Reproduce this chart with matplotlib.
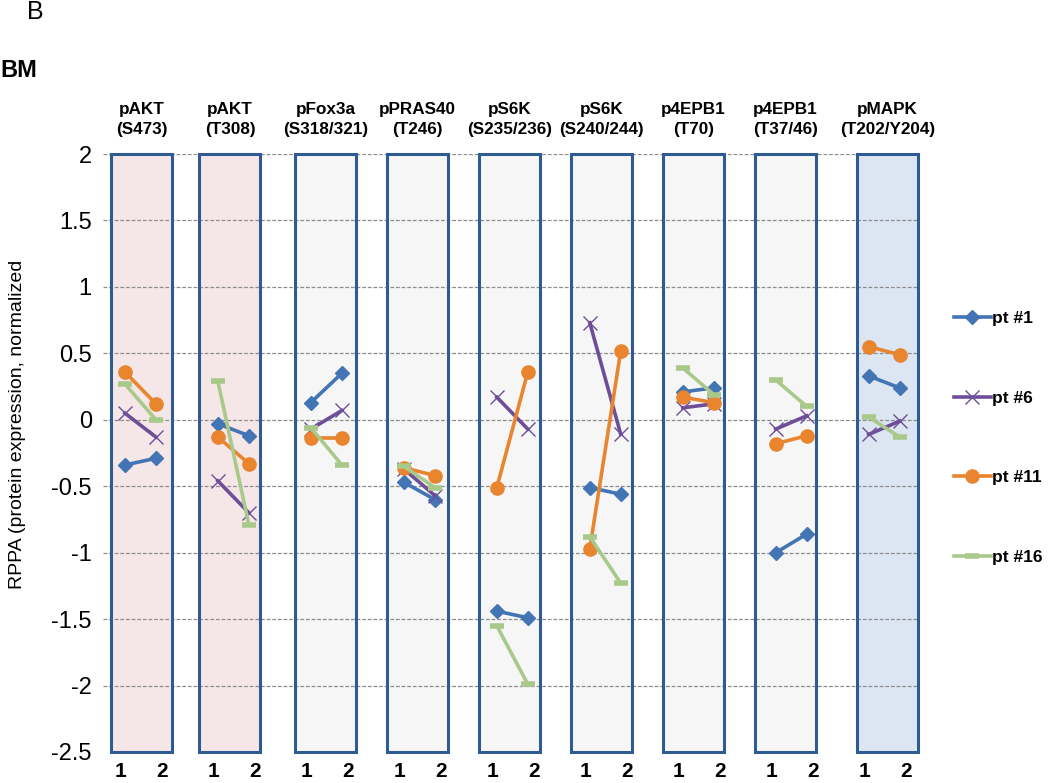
import matplotlib.pyplot as plt
import numpy as np
from matplotlib.patches import Rectangle
from matplotlib.transforms import blended_transform_factory

# panel titles (two lines each) and fill colours
targets = ['pAKT\n(S473)', 'pAKT\n(T308)', 'pFox3a\n(S318/321)', 'pPRAS40\n(T246)',
           'pS6K\n(S235/236)', 'pS6K\n(S240/244)', 'p4EPB1\n(T70)', 'p4EPB1\n(T37/46)',
           'pMAPK\n(T202/Y204)']
panel_fill = ['#F5E7E7', '#F5E7E7', '#F6F6F6', '#F6F6F6', '#F6F6F6',
              '#F6F6F6', '#F6F6F6', '#F6F6F6', '#DCE6F3']

# RPPA values at time point 1 and 2 for each panel
pt1  = [(-0.34, -0.29), (-0.03, -0.12), (0.13, 0.35), (-0.47, -0.60), (-1.44, -1.49),
        (-0.51, -0.56), (0.21, 0.24), (-1.00, -0.86), (0.33, 0.24)]
pt6  = [(0.05, -0.13), (-0.46, -0.70), (-0.07, 0.07), (-0.37, -0.57), (0.17, -0.07),
        (0.73, -0.11), (0.09, 0.12), (-0.07, 0.03), (-0.11, -0.01)]
pt11 = [(0.36, 0.12), (-0.13, -0.33), (-0.14, -0.14), (-0.36, -0.42), (-0.51, 0.36),
        (-0.97, 0.52), (0.17, 0.13), (-0.18, -0.12), (0.55, 0.49)]
pt16 = [(0.27, 0.0), (0.29, -0.79), (-0.06, -0.34), (-0.35, -0.51), (-1.55, -1.99),
        (-0.88, -1.23), (0.39, 0.19), (0.30, 0.10), (0.02, -0.13)]

series = [('pt #1', pt1, '#4374B3', 'D', dict(ms=7.5)),
          ('pt #6', pt6, '#6E4E98', 'x', dict(ms=10, mew=1.0)),
          ('pt #11', pt11, '#E9842F', 'o', dict(ms=9.5)),
          ('pt #16', pt16, '#A9C98B', '_', dict(ms=10, mew=4))]

# layout: points sit on a category grid (1, 2, gap) ; boxes were hand placed
box_centre = [0.55, 3.39, 6.47, 9.44, 12.40, 15.37, 18.34, 21.31, 24.60]
box_w = 1.97

plt.rcParams['font.family'] = ['Liberation Sans', 'DejaVu Sans']

fig = plt.figure(figsize=(10.5, 7.83), dpi=100)
ax = fig.add_axes([0.098, 0.0396, 0.776, 0.7637])
ax.set_xlim(-0.71, 25.58)
ax.set_ylim(-2.5, 2)

for c, fc in zip(box_centre, panel_fill):
    ax.add_patch(Rectangle((c - box_w / 2, -2.5), box_w, 4.5, facecolor=fc,
                           edgecolor='none', zorder=0))
    ax.add_patch(Rectangle((c - box_w / 2, -2.5), box_w, 4.5, facecolor='none',
                           edgecolor='#2F5A92', lw=2.2, zorder=2, clip_on=False))

ax.hlines(np.arange(-2, 2.01, 0.5), -0.71, 25.58, colors='#8C8C8C',
          linestyles=(0, (3, 1.5)), lw=0.9, zorder=1)

for name, vals, col, mk, kw in series:
    for i, (a, b) in enumerate(vals):
        ax.plot([3 * i, 3 * i + 1], [a, b], color=col, lw=2.6, marker=mk,
                mfc=col, mec=col, zorder=3, label=name if i == 0 else None, **kw)

# x "ticks" 1 / 2 under each box
xt, xl = [], []
for i in range(len(targets)):
    xt += [3 * i - 0.15, 3 * i + 1.2]
    xl += ['1', '2']
ax.set_xticks(xt)
ax.set_xticklabels(xl, fontsize=15, fontweight='bold')
ax.set_yticks(np.arange(-2.5, 2.01, 0.5))
ax.set_yticklabels(['-2.5', '-2', '-1.5', '-1', '-0.5', '0', '0.5', '1', '1.5', '2'],
                   fontsize=17)
ax.tick_params(axis='x', length=0, pad=7)
ax.tick_params(axis='y', length=0, pad=8)
for s in ax.spines.values():
    s.set_visible(False)

trans = blended_transform_factory(ax.transData, ax.transAxes)
for c, t in zip(box_centre, targets):
    ax.text(c, 1.058, t, transform=trans, ha='center', va='center',
            fontsize=12.3, fontweight='bold', linespacing=1.45)

fig.text(0.017, 1 - 424 / 783, 'RPPA (protein expression, normalized',
         rotation=90, ha='center', va='center', fontsize=14)
fig.text(0.034, 0.985, 'B', ha='center', va='center', fontsize=18)
fig.text(0.0, 0.91, 'BM', ha='left', va='center', fontsize=17, fontweight='bold')

ax.legend(loc='center left', bbox_to_anchor=(0.9005, 1 - 438 / 783),
          bbox_transform=fig.transFigure, frameon=False,
          prop=dict(size=12.5, weight='bold'),
          handlelength=2.1, handletextpad=0.1, labelspacing=3.7, borderpad=0)

fig.savefig('out.png', dpi=100)
